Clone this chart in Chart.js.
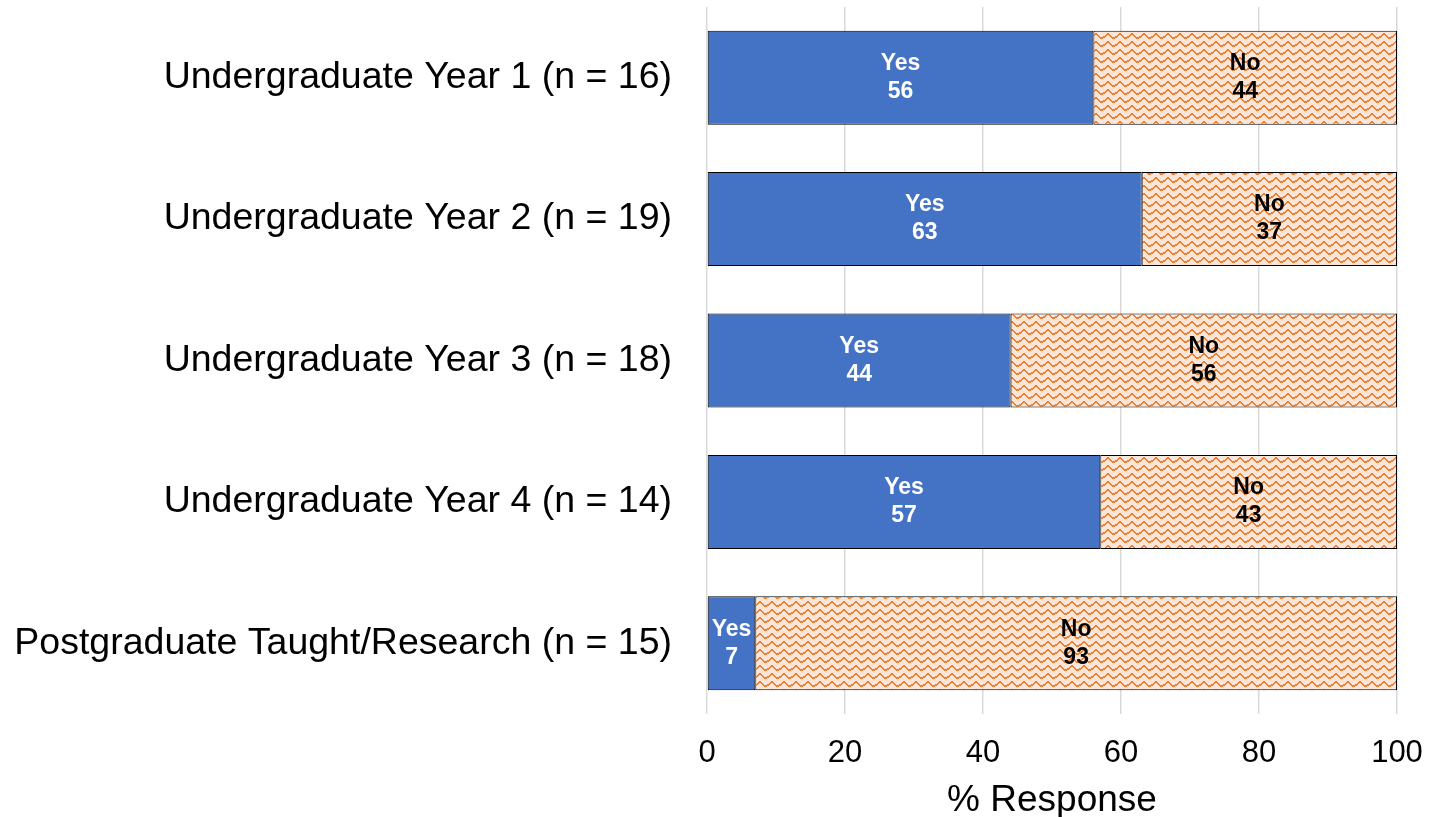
<!DOCTYPE html>
<html>
<head>
<meta charset="utf-8">
<script src="https://cdn.jsdelivr.net/npm/chart.js@4"></script>
<style>
  body { margin: 0; background: #ffffff; }
  #wrap { width: 1448px; height: 817px; position: relative; }
</style>
</head>
<body>
<div id="wrap"><canvas id="response-chart"></canvas></div>
<script>
const groups = [
    'Undergraduate Year 1 (n = 16)',
    'Undergraduate Year 2 (n = 19)',
    'Undergraduate Year 3 (n = 18)',
    'Undergraduate Year 4 (n = 14)',
    'Postgraduate Taught/Research (n = 15)'
];
const yesValues = [56, 63, 44, 57, 7];
const noValues = [44, 37, 56, 43, 93];
const xTicks = [0, 20, 40, 60, 80, 100];

const FONT = "'Liberation Sans', Arial, sans-serif";

// orange zigzag fill on a pale peach ground
function makeWavePattern() {
    const tile = document.createElement('canvas');
    tile.width = 12;
    tile.height = 8;
    const t = tile.getContext('2d');
    t.fillStyle = '#fbe5d6';
    t.fillRect(0, 0, 12, 8);
    t.fillStyle = '#ed7d31';
    const wave = [3, 2, 1, 0, 0, 1, 2, 3, 4, 4, 4, 3];
    wave.forEach((y, x) => t.fillRect(x, y + 1, 1, 2));
    return t.createPattern(tile, 'repeat');
}

const ctx = document.getElementById('response-chart').getContext('2d');
const wave = makeWavePattern();

const barLabels = {
    id: 'barLabels',
    afterDatasetsDraw(chart) {
        const c = chart.ctx;
        c.save();
        c.textAlign = 'center';
        c.textBaseline = 'middle';
        c.font = 'bold 23px ' + FONT;
        chart.data.datasets.forEach((ds, i) => {
            const meta = chart.getDatasetMeta(i);
            meta.data.forEach((bar, j) => {
                const cx = (bar.x + bar.base) / 2;
                c.fillStyle = i === 0 ? '#ffffff' : '#000000';
                c.fillText(ds.label, cx, bar.y - 14);
                c.fillText(String(ds.data[j]), cx, bar.y + 14);
            });
        });
        c.restore();
    }
};

new Chart(ctx, {
    type: 'bar',
    data: {
        labels: groups,
        datasets: [{
            label: 'Yes',
            data: yesValues,
            backgroundColor: '#4472c4',
            borderColor: '#000000',
            borderWidth: 1,
            borderSkipped: false,
            categoryPercentage: 0.665,
            barPercentage: 1
        }, {
            label: 'No',
            data: noValues,
            backgroundColor: wave,
            borderColor: '#000000',
            borderWidth: 1,
            borderSkipped: false,
            categoryPercentage: 0.665,
            barPercentage: 1
        }]
    },
    options: {
        indexAxis: 'y',
        responsive: true,
        maintainAspectRatio: false,
        animation: false,
        layout: { padding: { top: 7, right: 51, left: 0, bottom: 0 } },
        plugins: {
            legend: { display: false },
            tooltip: { enabled: false }
        },
        scales: {
            x: {
                stacked: true,
                min: 0,
                max: 100,
                afterBuildTicks: axis => { axis.ticks = xTicks.map(v => ({ value: v })); },
                afterFit: axis => { axis.height = 103; },
                grid: { color: '#d9d9d9', lineWidth: 1.5, drawTicks: false },
                border: { display: false },
                ticks: {
                    color: '#000000',
                    padding: 21,
                    maxRotation: 0,
                    font: { family: FONT, size: 31 }
                },
                title: {
                    display: true,
                    text: '% Response',
                    color: '#000000',
                    padding: { top: 7, bottom: -6 },
                    font: { family: FONT, size: 37 }
                }
            },
            y: {
                stacked: true,
                grid: { display: false },
                border: { display: false },
                afterFit: axis => {
                    axis.width = 707;
                    // the label gap shouldn't push the plot down
                    axis.paddingTop = 0;
                    axis.paddingBottom = 0;
                },
                ticks: {
                    color: '#000000',
                    padding: 27,
                    font: { family: FONT, size: 37.5 }
                }
            }
        }
    },
    plugins: [barLabels]
});
</script>
</body>
</html>
